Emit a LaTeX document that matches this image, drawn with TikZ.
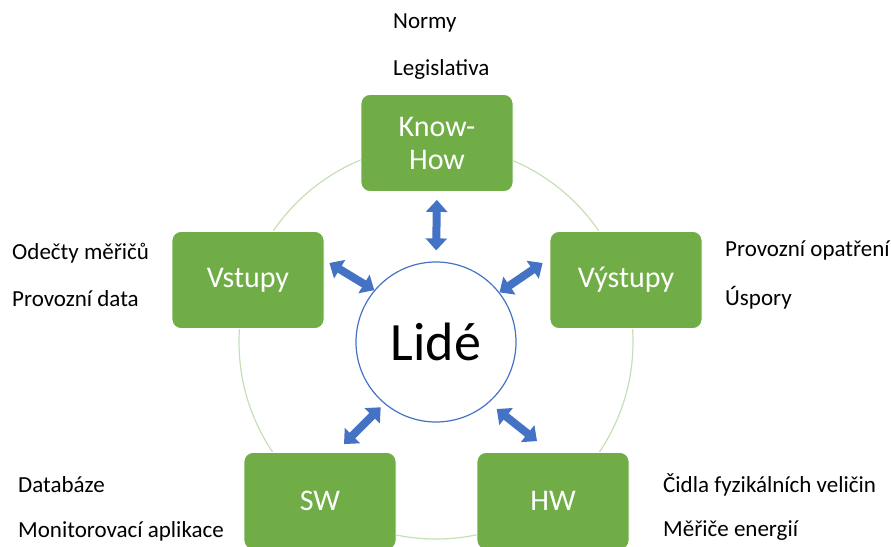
\documentclass[tikz,border=0pt]{standalone}
\usepackage{fontspec}
\setmainfont{Carlito}
\usepackage{xcolor}
\usetikzlibrary{arrows.meta}
\definecolor{pgreen}{HTML}{70AD47}
\definecolor{pblue}{HTML}{4472C4}
\definecolor{ringgreen}{HTML}{C5E0B4}

\begin{document}
\begin{tikzpicture}[x=1pt,y=1pt,
    pillar/.style={draw=white,line width=0.8pt,fill=pgreen,rounded corners=9pt,
      minimum width=152pt,minimum height=97pt,text=white,align=center,
      font=\fontsize{30}{33}\selectfont},
    note/.style={anchor=west,inner sep=0pt,font=\fontsize{23}{25}\selectfont},
    dblarrow/.style={pblue,line width=8pt,
      {Triangle[width=21pt,length=12pt]}-{Triangle[width=21pt,length=12pt]}}]
  \useasboundingbox (0,0) rectangle (891,546);
  \node[circle,draw=ringgreen,line width=1.2pt,minimum size=394pt] (ring) at (436,204) {};
  \node[circle,draw=pblue,line width=1.2pt,fill=white,minimum size=160pt,
        font=\fontsize{54}{54}\selectfont] (lide) at (436,204) {Lidé};
  \node[pillar] (know) at (437,403) {Know-\\How};
  \node[pillar] (vstupy) at (248,266) {Vstupy};
  \node[pillar] (vystupy) at (626,266) {Výstupy};
  \node[pillar] (sw) at (320,45) {SW};
  \node[pillar] (hw) at (553,45) {HW};

  \draw[dblarrow,shorten <=8pt,shorten >=11pt] (know.south) -- (lide.north);
  \draw[dblarrow] ([shift={(5pt,17pt)}]vstupy.east) -- (lide.140);
  \draw[dblarrow] ([shift={(-7pt,17pt)}]vystupy.west) -- (lide.38);
  \draw[dblarrow,shorten >=5pt] ([shift={(24pt,8pt)}]sw.north) -- (lide.230);
  \draw[dblarrow,shorten >=10pt] ([shift={(-16pt,11pt)}]hw.north) -- (lide.311);

  \node[note] (normy) at (393,523) {Normy};
  \node[note] (legis) at (393,477) {Legislativa};
  \node[note] (odecty) at (12,293) {Odečty měřičů};
  \node[note] (provdata) at (12,247) {Provozní data};
  \node[note] (opatreni) at (725,295) {Provozní opatření};
  \node[note] (uspory) at (725,248) {Úspory};
  \node[note] (databaze) at (18,61) {Databáze};
  \node[note] (monitor) at (18,15) {Monitorovací aplikace};
  \node[note] (cidla) at (663,61) {Čidla fyzikálních veličin};
  \node[note] (merice) at (663,15) {Měřiče energií};
\end{tikzpicture}
\end{document}
